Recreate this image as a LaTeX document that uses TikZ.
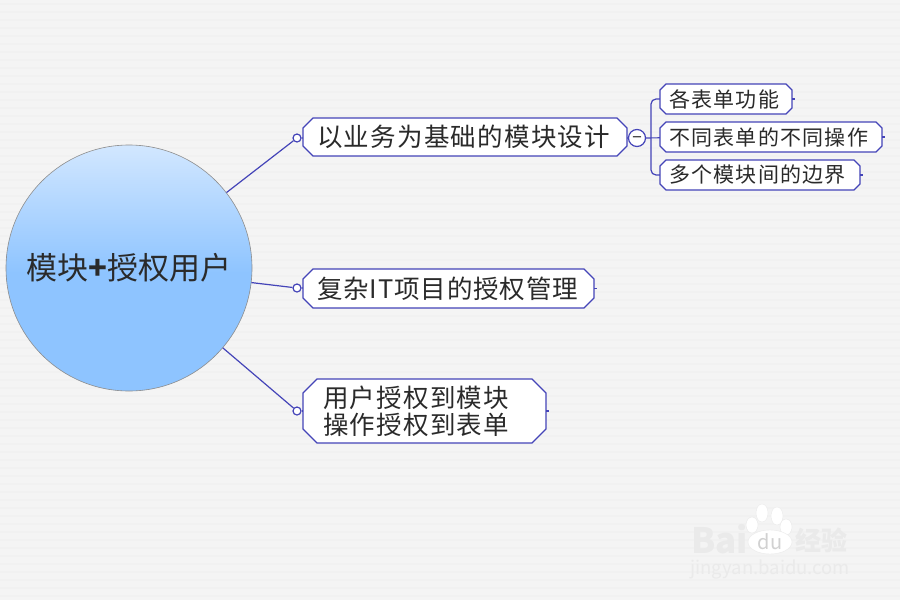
\documentclass[tikz,border=0pt]{standalone}
\usepackage{fontspec}
\setmainfont{Noto Sans CJK SC}
\usetikzlibrary{shapes.geometric}
\definecolor{backcol}{HTML}{F4F4F4}
\definecolor{stripecol}{HTML}{F1F1F1}
\definecolor{linecol}{HTML}{4444B8}
\definecolor{hubtop}{HTML}{D2E7FF}
\definecolor{hubbot}{HTML}{8EC4FF}
\definecolor{markcol}{HTML}{EAEAEA}
\definecolor{inkcol}{HTML}{2A2A2A}
\pgfdeclareverticalshading{hubfill}{100bp}{color(0bp)=(hubbot); color(49bp)=(hubbot); color(75bp)=(hubtop); color(100bp)=(hubtop)}
% name, centre, size and chamfer, text pad, text
\def\octnode[#1](#2)(#3,#4)(#5:#6:#7:#8)#9{
	\draw[bondline, fill=white] ({#3-#5/2+#7}, {#4-#6/2}) -- ({#3+#5/2-#7}, {#4-#6/2}) -- ({#3+#5/2}, {#4-#6/2+#7}) -- ({#3+#5/2}, {#4+#6/2-#7}) -- ({#3+#5/2-#7}, {#4+#6/2}) -- ({#3-#5/2+#7}, {#4+#6/2}) -- ({#3-#5/2}, {#4+#6/2-#7}) -- ({#3-#5/2}, {#4-#6/2+#7}) -- cycle;
	\pgfmathsetmacro{\octtext}{#5-2*#8}
	\node[#1, minimum width=#5pt, minimum height=#6pt, inner xsep=#8pt, inner ysep=0pt, text width=\octtext pt, align=left] (#2) at (#3, #4) {#9};
}
\tikzset{
	bondline/.style={draw=linecol, line width=1.2pt},
	mainbox/.style={text=inkcol, font=\fontsize{25.5}{27}\selectfont\addfontfeature{LetterSpace=5}},
	projectbox/.style={text=inkcol, font=\fontsize{25.5}{27}\selectfont\addfontfeature{LetterSpace=3.5}},
	subbox/.style={text=inkcol, font=\fontsize{21}{24}\selectfont\addfontfeature{LetterSpace=6}},
	opendot/.style={bondline, fill=white, circle, inner sep=0pt, minimum size=8pt},
	foldmark/.style={bondline, fill=white, circle, inner sep=0pt, minimum size=17pt, text=inkcol, font=\fontsize{17}{17}\selectfont},
	markfont/.style={text=markcol, inner sep=0pt}
}

\begin{document}
\begin{tikzpicture}[x=1pt, y=-1pt]
	%%%%% START %%%%%
	\useasboundingbox (0, 0) rectangle (900, 600);
	\fill[backcol] (0, 0) rectangle (900, 600);
	\foreach \y in {4, 12, ..., 596}
		\draw[stripecol, line width=2pt] (0, \y) -- (900, \y);

	\node[circle, draw=black!45, line width=0.6pt, shading=hubfill, minimum size=246pt, inner sep=0pt, text=inkcol, font=\fontsize{31}{31}\selectfont] (hub) at (129, 268) {模块\textbf{+}授权用户};

	\octnode[mainbox](design)(465, 137)(324:38:10:14){以业务为基础的模块设计}
	\octnode[projectbox](project)(448.5, 288.5)(291:39:10:14){复杂IT项目的授权管理}
	\octnode[mainbox](grant)(424.5, 411)(243:64:14:20){用户授权到模块\\操作授权到表单}

	\octnode[subbox](form)(726, 99)(132:30:6:9){各表单功能}
	\octnode[subbox](diff)(771, 137)(222:30:6:9){不同表单的不同操作}
	\octnode[subbox](edge)(760, 175)(200:30:6:9){多个模块间的边界}

	% left end dots
	\node[opendot] (designdot) at (297, 138) {};
	\node[opendot] (projectdot) at (297, 288) {};
	\node[opendot] (grantdot) at (297, 411) {};
	\node[foldmark] (fold) at (637, 138) {\raisebox{-5pt}[0pt][0pt]{−}};

	\draw[bondline] (hub) -- (designdot);
	\draw[bondline] (hub) -- (projectdot);
	\draw[bondline] (hub) -- (grantdot);
	\draw[bondline] (designdot) -- (design);
	\draw[bondline] (projectdot) -- (project);
	\draw[bondline] (grantdot) -- (grant);
	\draw[bondline] (design) -- (fold);

	\draw[bondline] (fold) -- (diff);
	\draw[bondline, rounded corners=5pt] (form.west) -- (651, 99) -- (651, 175) -- (edge.west);

	% right end stubs
	\draw[bondline] (project.east) -- ++(3, 0);
	\draw[bondline] (grant.east) -- ++(3, 0);
	\draw[bondline] (form.east) -- ++(3, 0);
	\draw[bondline] (diff.east) -- ++(3, 0);
	\draw[bondline] (edge.east) -- ++(3, 0);

	% watermark
	\node[markfont, font=\fontsize{35}{35}\selectfont\bfseries, anchor=west] (markbai) at (691, 539) {Bai};
	\draw[fill=white, draw=markcol] (752, 525) ellipse (6 and 8);
	\draw[fill=white, draw=markcol] (762, 513) ellipse (6 and 9);
	\draw[fill=white, draw=markcol] (777, 516) ellipse (6 and 9);
	\draw[fill=white, draw=markcol] (786, 527) ellipse (6 and 8);
	\node[markfont, ellipse, draw=markcol, fill=white, minimum width=44pt, minimum height=24pt, text=black!18, font=\fontsize{20}{20}\selectfont] (markdu) at (770, 542) {du};
	\node[markfont, font=\fontsize{26}{26}\selectfont\bfseries, anchor=west] (markjy) at (795, 540) {经验};
	\node[markfont, font=\fontsize{18.5}{20}\selectfont, anchor=west] (markurl) at (690, 569) {jingyan.baidu.com};
	%%%%% END %%%%%
\end{tikzpicture}
\end{document}
